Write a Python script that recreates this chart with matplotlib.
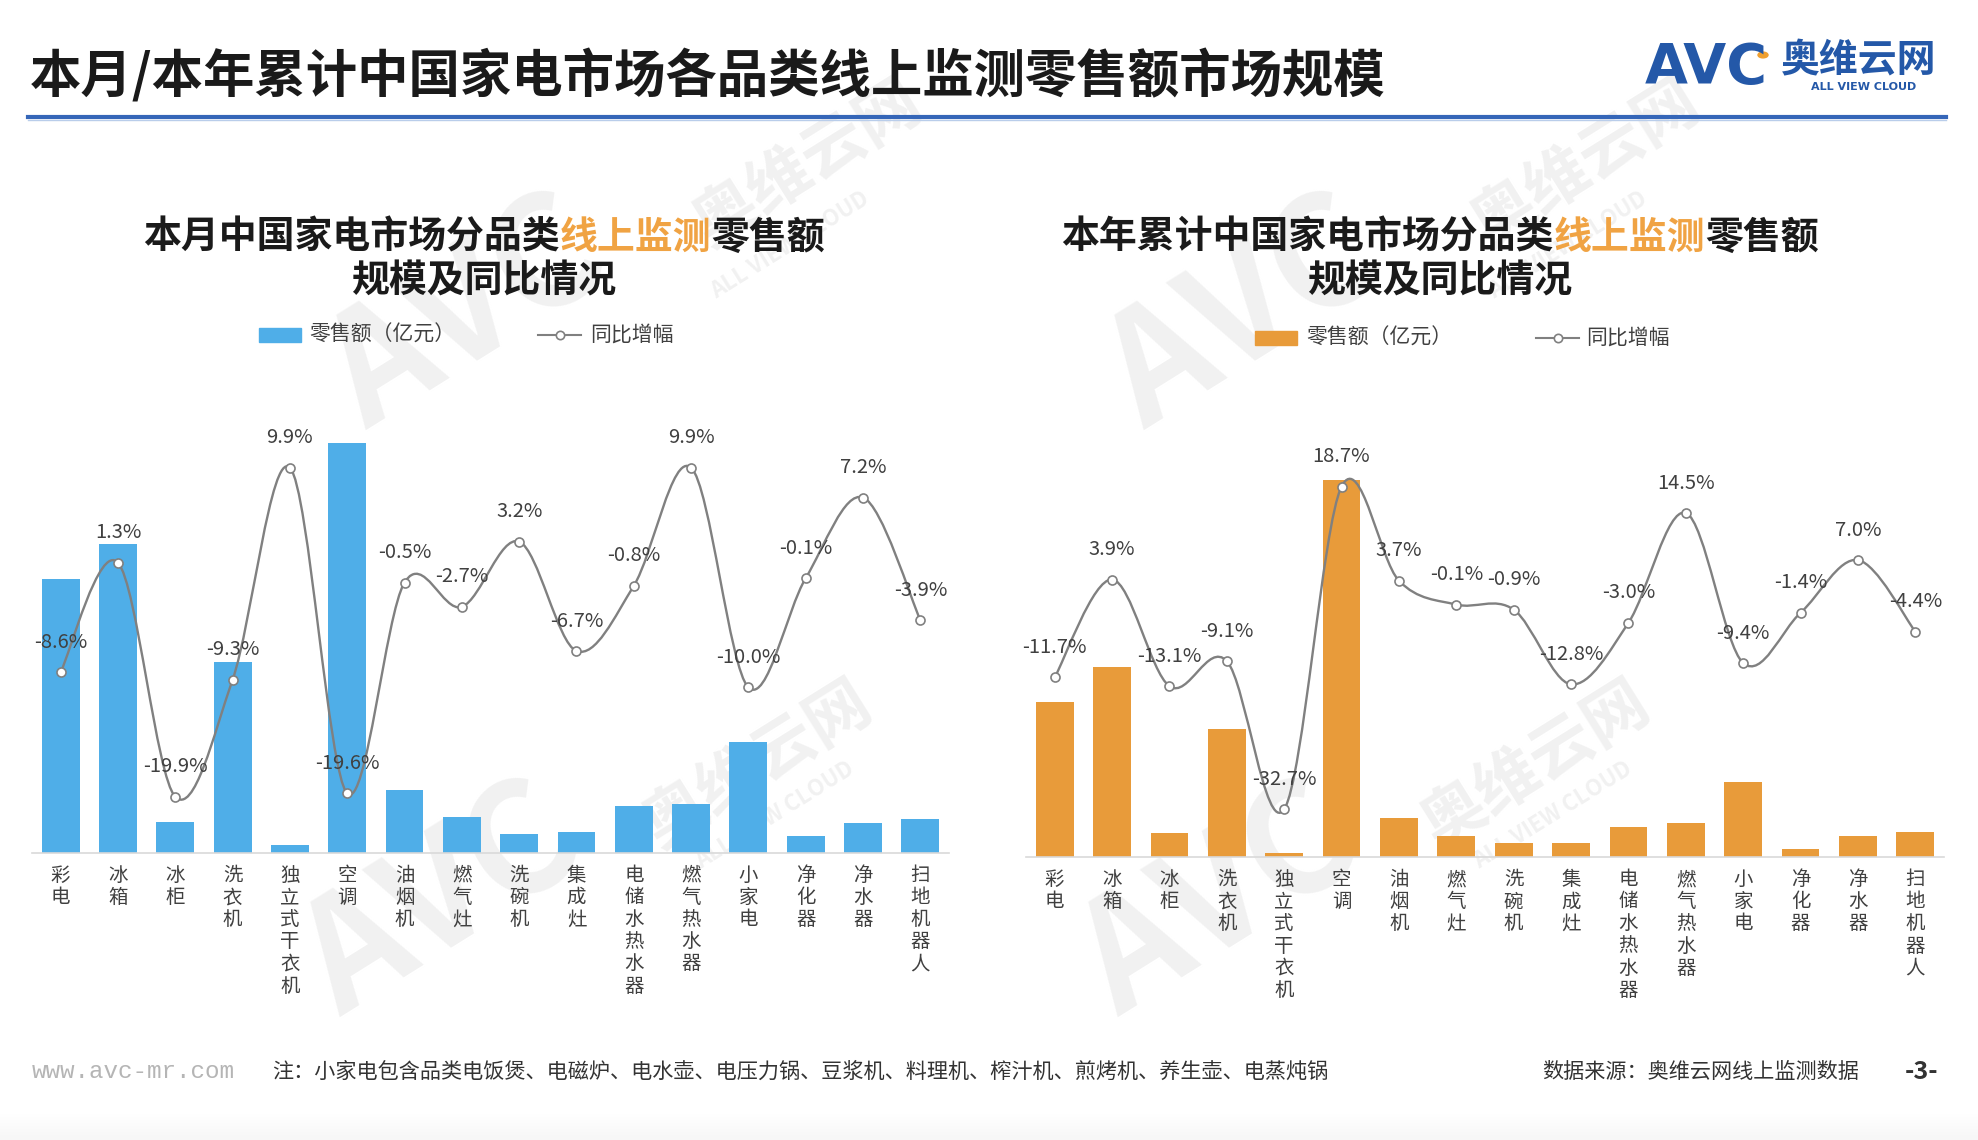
import numpy as np
import matplotlib
matplotlib.use("Agg")
import matplotlib.pyplot as plt
from matplotlib.path import Path
from matplotlib.patches import PathPatch, Rectangle, Circle
from matplotlib.lines import Line2D

plt.rcParams['font.family'] = ['Noto Sans CJK SC', 'DejaVu Sans']

W, H = 1978, 1140

categories = ['彩电', '冰箱', '冰柜', '洗衣机', '独立式干衣机', '空调', '油烟机', '燃气灶',
              '洗碗机', '集成灶', '电储水热水器', '燃气热水器', '小家电', '净化器', '净水器', '扫地机器人']

# 本月 (亿元) and 同比
month_sales = [81.9, 92.4, 9.2, 57.2, 2.2, 122.7, 18.7, 10.7, 5.4, 6.2, 14.0, 14.5, 33.0, 4.9, 8.7, 9.9]
month_yoy = [-8.6, 1.3, -19.9, -9.3, 9.9, -19.6, -0.5, -2.7, 3.2, -6.7, -0.8, 9.9, -10.0, -0.1, 7.2, -3.9]

# 本年累计
year_sales = [232.5, 285.0, 36.0, 191.0, 6.0, 565.0, 57.5, 31.0, 21.0, 21.0, 45.0, 50.0, 112.5, 12.0, 31.0, 37.5]
year_yoy = [-11.7, 3.9, -13.1, -9.1, -32.7, 18.7, 3.7, -0.1, -0.9, -12.8, -3.0, 14.5, -9.4, -1.4, 7.0, -4.4]

BLUE = '#4FAEE8'
ORANGE = '#E89B3A'
GREY_LINE = '#808080'
TXT = '#404040'


def fx(px):
    return px / W


def fy(py):
    return (H - py) / H


def smooth_path(xs, ys):
    # excel-like smoothed line: catmull-rom turned into bezier segments
    pts = np.column_stack([xs, ys]).astype(float)
    n = len(pts)
    verts = [pts[0]]
    codes = [Path.MOVETO]
    for i in range(n - 1):
        p0 = pts[max(i - 1, 0)]
        p1 = pts[i]
        p2 = pts[i + 1]
        p3 = pts[min(i + 2, n - 1)]
        verts += [p1 + (p2 - p0) / 6.0, p2 - (p3 - p1) / 6.0, p2]
        codes += [Path.CURVE4] * 3
    return Path(verts, codes)


def draw_panel(left, right, top, bottom, sales, yoy, color, bar_top, line_lim):
    ax = fig.add_axes([fx(left), fy(bottom), fx(right - left), (bottom - top) / H])
    ax.set_facecolor('none')
    x = np.arange(len(categories))
    ax.bar(x, sales, width=0.66, color=color, zorder=2)
    ax.set_xlim(-0.5, len(categories) - 0.5)
    ax.set_ylim(0, bar_top)
    ax.set_yticks([])
    for s in ['top', 'right', 'left']:
        ax.spines[s].set_visible(False)
    ax.spines['bottom'].set_color('#d9d9d9')
    ax.spines['bottom'].set_linewidth(1.2)
    ax.set_xticks(x)
    ax.set_xticklabels(['\n'.join(c) for c in categories], fontsize=14, color=TXT, linespacing=1.07)
    ax.tick_params(axis='x', length=0, pad=9)

    ax2 = ax.twinx()
    ax2.set_ylim(*line_lim)
    ax2.axis('off')
    ax2.add_patch(PathPatch(smooth_path(x, yoy), fill=False, edgecolor=GREY_LINE, lw=1.7, zorder=3))
    ax2.plot(x, yoy, ls='none', marker='o', ms=6.5, mfc='white', mec=GREY_LINE, mew=1.2, zorder=4)
    for xi, v in zip(x, yoy):
        ax2.annotate(f'{v:.1f}%', (xi, v), xytext=(0, 21.5), textcoords='offset points',
                     ha='center', va='center', fontsize=14.5, color=TXT, zorder=5)
    return ax


def chart_title(cx, y1, y2, first):
    fs = 27.3
    fig.canvas.draw()
    parts = [(first, '#1a1a1a'), ('线上监测', '#F0A343'), ('零售额', '#1a1a1a')]
    r = fig.canvas.get_renderer()
    texts = []
    for s, c in parts:
        texts.append(fig.text(0, fy(y1), s, color=c, fontsize=fs, fontweight='bold',
                              va='center', ha='left'))
    widths = [t.get_window_extent(r).width for t in texts]
    x = cx - sum(widths) / 2
    for t, w in zip(texts, widths):
        t.set_x(fx(x))
        x += w
    fig.text(fx(cx), fy(y2), '规模及同比情况', color='#1a1a1a', fontsize=fs, fontweight='bold',
             va='center', ha='center')


def legend_row(x_rect, x_t1, x_line, x_t2, y, color):
    fig.add_artist(Rectangle((fx(x_rect), fy(y + 7)), fx(42), 14 / H, color=color,
                             transform=fig.transFigure))
    fig.text(fx(x_t1), fy(y), '零售额（亿元）', fontsize=15, color=TXT, va='center')
    fig.add_artist(Line2D([fx(x_line), fx(x_line + 43)], [fy(y), fy(y)], color=GREY_LINE, lw=1.5,
                          transform=fig.transFigure))
    fig.add_artist(Line2D([fx(x_line + 21.5)], [fy(y)], ls='none', marker='o', ms=6, mfc='white',
                          mec=GREY_LINE, mew=1.2, transform=fig.transFigure))
    fig.text(fx(x_t2), fy(y), '同比增幅', fontsize=15, color=TXT, va='center')


fig = plt.figure(figsize=(W / 100, H / 100), dpi=100)

# faint watermarks
for dx in (0, 778):
    fig.text(fx(467 + dx), fy(315), 'AVC', fontsize=110, fontweight='bold', color='#f1f1f1',
             rotation=32, ha='center', va='center', zorder=-2)
    fig.text(fx(807 + dx), fy(164), '奥维云网', fontsize=46, fontweight='bold', color='#f1f1f1',
             rotation=32, ha='center', va='center', zorder=-2)
    fig.text(fx(790 + dx), fy(245), 'ALL VIEW CLOUD', fontsize=16, fontweight='bold', color='#f1f1f1',
             rotation=32, ha='center', va='center', zorder=-2)
    fig.text(fx(441 + dx), fy(902), 'AVC', fontsize=110, fontweight='bold', color='#f1f1f1',
             rotation=32, ha='center', va='center', zorder=-2)
    fig.text(fx(757 + dx), fy(765), '奥维云网', fontsize=46, fontweight='bold', color='#f1f1f1',
             rotation=32, ha='center', va='center', zorder=-2)
    fig.text(fx(775 + dx), fy(815), 'ALL VIEW CLOUD', fontsize=16, fontweight='bold', color='#f1f1f1',
             rotation=32, ha='center', va='center', zorder=-2)

# header
fig.text(fx(30), fy(76), '本月/本年累计中国家电市场各品类线上监测零售额市场规模', fontsize=37,
         fontweight='bold', color='#1a1a1a', va='center', ha='left')
fig.add_artist(Line2D([fx(28), fx(1946)], [fy(117), fy(117)], color='#3566B8', lw=3,
                      transform=fig.transFigure))
fig.add_artist(Line2D([fx(28), fx(1946)], [fy(120), fy(120)], color='#b9cdea', lw=1,
                      transform=fig.transFigure))
fig.text(fx(1645), fy(68), 'AVC', fontsize=40, fontweight='bold', color='#2458A8',
         family='DejaVu Sans', va='center', ha='left')
fig.add_artist(Circle((fx(1763), fy(55)), 5 / W, color='#F0A030', transform=fig.transFigure))
fig.text(fx(1781), fy(61), '奥维云网', fontsize=28, fontweight='bold', color='#2458A8',
         va='center', ha='left')
fig.text(fx(1864), fy(87), 'ALL VIEW CLOUD', fontsize=8, fontweight='bold', color='#2458A8',
         family='DejaVu Sans', va='center', ha='center')

chart_title(484, 237, 281, '本月中国家电市场分品类')
chart_title(1440, 237, 281, '本年累计中国家电市场分品类')

legend_row(259, 309, 538, 590, 335, BLUE)
legend_row(1255, 1306, 1536, 1586, 338, ORANGE)

draw_panel(32, 949, 420, 852.5, month_sales, month_yoy, BLUE, 129.7, (-24.95, 14.22))
draw_panel(1026, 1944, 420, 856.7, year_sales, year_yoy, ORANGE, 655.0, (-40.26, 29.31))

# footer
fig.text(fx(32), fy(1072), 'www.avc-mr.com', family='Liberation Mono', fontsize=17.5, color='#b5b5b5',
         va='center', ha='left')
fig.text(fx(272), fy(1072), '注：小家电包含品类电饭煲、电磁炉、电水壶、电压力锅、豆浆机、料理机、榨汁机、煎烤机、养生壶、电蒸炖锅',
         fontsize=15.2, color='#333333', va='center', ha='left')
fig.text(fx(1542), fy(1072), '数据来源：奥维云网线上监测数据', fontsize=15.2, color='#333333',
         va='center', ha='left')
fig.text(fx(1922), fy(1072), '-3-', fontsize=18, fontweight='bold', color='#333333',
         va='center', ha='center')

# light grey band at the very bottom
band = fig.add_axes([0, 0, 1, 28 / H])
band.imshow(np.linspace(0.0, 0.07, 28).reshape(-1, 1), aspect='auto', cmap='Greys', vmin=0, vmax=1,
            extent=(0, 1, 0, 1))
band.axis('off')
band.set_zorder(-3)

fig.savefig('out.png', dpi=100)
